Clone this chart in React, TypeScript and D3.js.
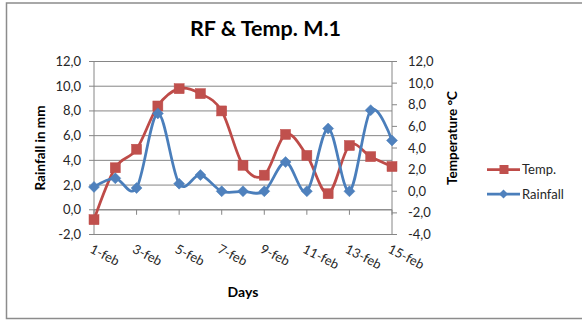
import React from 'react';
import * as d3 from 'd3';

const days = ['1-feb','2-feb','3-feb','4-feb','5-feb','6-feb','7-feb','8-feb','9-feb','10-feb','11-feb','12-feb','13-feb','14-feb','15-feb'];
const temp = [-0.8, 3.4, 4.9, 8.4, 9.8, 9.4, 8.0, 3.6, 2.8, 6.1, 4.4, 1.3, 5.2, 4.3, 3.5];
const rainfall = [0.4, 1.2, 0.3, 7.2, 0.7, 1.5, 0.0, 0.0, 0.0, 2.7, 0.0, 5.8, 0.0, 7.5, 4.7];
const leftTicks = [-2, 0, 2, 4, 6, 8, 10, 12];
const rightTicks = [-4, -2, 0, 2, 4, 6, 8, 10, 12];
const title = 'RF & Temp. M.1';
const xTitle = 'Days';
const yLeftTitle = 'Rainfall in mm';
const yRightTitle = 'Temperature °C';
const seriesNames = ['Temp.', 'Rainfall'];

const FONT = 'Lato, Calibri, "Open Sans", sans-serif';
const fmt = (v: number) => v.toFixed(1).replace('.', ',');

export default function App() {
  const W = 582, H = 320;
  const left = 94, right = 392, top = 61.5, bottom = 234.5;
  const x = d3.scalePoint<string>().domain(days).range([left, right]);
  const yL = d3.scaleLinear().domain([-2, 12]).range([bottom, top]);
  const yR = d3.scaleLinear().domain([-4, 12]).range([bottom, top]);
  const curve = d3.curveCardinal.tension(0);
  const tempLine = d3.line<number>().x((_, i) => x(days[i])!).y(d => yL(d)).curve(curve);
  const rainLine = d3.line<number>().x((_, i) => x(days[i])!).y(d => yR(d)).curve(curve);
  const axisColor = '#868686';
  const red = '#BE4B48', redM = '#C0504D', blue = '#4A7EBB', blueM = '#4F81BD';
  const diamond = (cx: number, cy: number, r: number) => `M${cx},${cy - r}L${cx + r},${cy}L${cx},${cy + r}L${cx - r},${cy}Z`;

  return (
    <svg width={W} height={H} style={{ position: 'absolute', left: 0, top: 0, background: '#fff' }} fontFamily={FONT}>
      <rect x={6.5} y={3} width={600} height={315.5} fill="#fff" stroke="#8c8c8c" strokeWidth={1.5} />
      <text x={265.5} y={36} textAnchor="middle" fontSize={21.5} fontWeight="bold" fill="#000">{title}</text>

      {leftTicks.map(t => (
        <line key={'g' + t} x1={left} x2={right} y1={yL(t)} y2={yL(t)} stroke={axisColor} strokeWidth={1} />
      ))}
      <line x1={left} x2={left} y1={top} y2={bottom} stroke={axisColor} strokeWidth={1} />
      {leftTicks.map(t => (
        <g key={'l' + t}>
          <line x1={left - 5} x2={left} y1={yL(t)} y2={yL(t)} stroke={axisColor} />
          <text x={81} y={yL(t)} dy="0.35em" textAnchor="end" fontSize={13} fill="#262626">{fmt(t)}</text>
        </g>
      ))}
      <line x1={right} x2={right} y1={top} y2={bottom} stroke={axisColor} strokeWidth={1} />
      {rightTicks.map(t => (
        <g key={'r' + t}>
          <line x1={right} x2={right + 5} y1={yR(t)} y2={yR(t)} stroke={axisColor} />
          <text x={408} y={yR(t)} dy="0.35em" textAnchor="start" fontSize={13} fill="#262626">{fmt(t)}</text>
        </g>
      ))}
      <line x1={left} x2={right} y1={yL(0)} y2={yL(0)} stroke={axisColor} strokeWidth={1} />
      {days.map((d, i) => i % 2 === 0 ? (
        <g key={'x' + d}>
          <line x1={x(d)!} x2={x(d)!} y1={yL(0)} y2={yL(0) + 5} stroke={axisColor} />
          <text transform={`translate(${x(d)! - 3},${248}) rotate(27)`} fontSize={13} fill="#262626" dy="0.35em">{d}</text>
        </g>
      ) : null)}

      <text x={243} y={297} textAnchor="middle" fontSize={14} fontWeight="bold" fill="#000">{xTitle}</text>
      <text transform={`translate(40,148) rotate(-90)`} textAnchor="middle" dy="0.35em" fontSize={13.5} fontWeight="bold" fill="#000">{yLeftTitle}</text>
      <text transform={`translate(452,138) rotate(-90)`} textAnchor="middle" dy="0.35em" fontSize={13.5} fontWeight="bold" fill="#000">{yRightTitle}</text>

      <path d={tempLine(temp)!} fill="none" stroke={red} strokeWidth={2.75} strokeLinejoin="round" />
      {temp.map((v, i) => (
        <rect key={'t' + i} x={x(days[i])! - 5} y={yL(v) - 5} width={10} height={10} fill={redM} stroke={red} strokeWidth={0.5} />
      ))}
      <path d={rainLine(rainfall)!} fill="none" stroke={blue} strokeWidth={2.75} strokeLinejoin="round" />
      {rainfall.map((v, i) => (
        <path key={'p' + i} d={diamond(x(days[i])!, yR(v), 5.5)} fill={blueM} stroke={blue} strokeWidth={0.5} />
      ))}

      <line x1={487} x2={520} y1={169.5} y2={169.5} stroke={red} strokeWidth={2.75} />
      <rect x={499.5} y={165} width={9} height={9} fill={redM} />
      <text x={522} y={169.5} dy="0.35em" fontSize={13} fill="#262626">{seriesNames[0]}</text>
      <line x1={487} x2={520} y1={194} y2={194} stroke={blue} strokeWidth={2.75} />
      <path d={diamond(503.5, 194, 4.5)} fill={blueM} />
      <text x={522} y={194} dy="0.35em" fontSize={13} fill="#262626">{seriesNames[1]}</text>
    </svg>
  );
}
